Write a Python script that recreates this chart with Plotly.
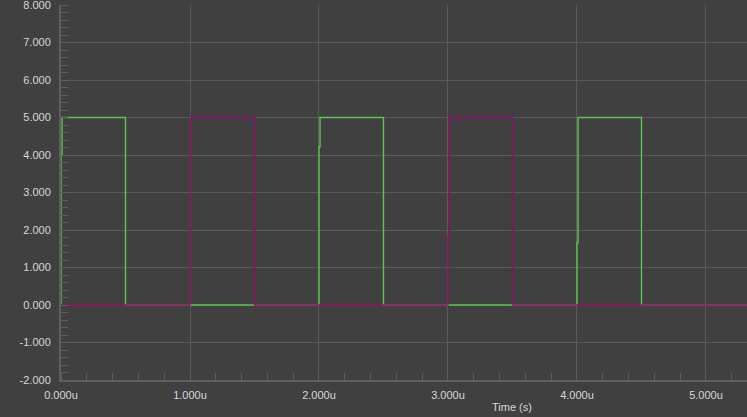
import plotly.graph_objects as go

# Time in microseconds, values in volts (step signals, drawn with 'hv' shape)
green_t = [0.0, 0.0, 0.008, 0.5, 2.0, 2.008, 2.5, 4.0, 4.008, 4.5, 7.0]
green_v = [0.0, 4.0, 5.0, 0.0, 4.22, 5.0, 0.0, 1.66, 5.0, 0.0, 0.0]

magenta_t = [0.0, 1.0, 1.008, 1.5, 3.0, 3.008, 3.5, 7.0]
magenta_v = [0.0, 4.16, 5.0, 0.0, 1.86, 5.0, 0.0, 0.0]

x_range = [0.0, 5.318]
y_range = [-2.0, 8.0]
y_ticks = [-2, -1, 0, 1, 2, 3, 4, 5, 6, 7, 8]
y_labels = ["-2.000", "-1.000", "0.000", "1.000", "2.000", "3.000", "4.000",
            "5.000", "6.000", "7.000", "8.000"]
x_ticks = [0, 1, 2, 3, 4, 5]
x_labels = ["0.000u", "1.000u", "2.000u", "3.000u", "4.000u", "5.000u"]

BG = "#404040"
GRID = "#5a5a5a"
AXIS = "#5e5e5e"
TXT = "#d4d8de"

L, T, B = 61, 5, 37
W, H = 747, 417
PW, PH = W - L, H - T - B

fig = go.Figure()
fig.add_trace(go.Scatter(x=green_t, y=green_v, mode="lines", line_shape="hv",
                         line=dict(color="#5ec452", width=1.4), showlegend=False))
fig.add_trace(go.Scatter(x=magenta_t, y=magenta_v, mode="lines", line_shape="hv",
                         line=dict(color="#9a0a6a", width=1.3), showlegend=False))

fig.update_layout(
    width=W, height=H,
    margin=dict(l=L, r=0, t=T, b=B),
    paper_bgcolor=BG, plot_bgcolor=BG,
    font=dict(family="Liberation Sans, Arial, sans-serif", size=11, color=TXT),
    showlegend=False,
    annotations=[dict(text="Time (s)", x=(512 - L) / PW, y=-(407.5 - (T + PH)) / PH,
                      xref="paper", yref="paper", xanchor="center", yanchor="middle",
                      showarrow=False, font=dict(size=11, color=TXT))],
)

fig.update_xaxes(
    range=x_range, tickmode="array", tickvals=x_ticks, ticktext=x_labels,
    showgrid=True, gridcolor=GRID, gridwidth=1, zeroline=False,
    showline=True, linecolor=AXIS, linewidth=2, automargin=False,
    ticks="", ticklabelstandoff=4, ticklabeloverflow="allow",
    minor=dict(dtick=0.2, tick0=0, ticks="inside", ticklen=7, tickcolor=AXIS, tickwidth=1, showgrid=False),
)
fig.update_yaxes(
    range=y_range, tickmode="array", tickvals=y_ticks, ticktext=y_labels,
    showgrid=True, gridcolor=GRID, gridwidth=1, zeroline=False,
    showline=True, linecolor=AXIS, linewidth=2, automargin=False,
    ticks="", ticklabelstandoff=6, ticklabeloverflow="allow",
    minor=dict(dtick=0.2, tick0=0, ticks="inside", ticklen=7, tickcolor=AXIS, tickwidth=1, showgrid=False),
)

fig.write_html(
    "out.html",
    config={"displayModeBar": False},
    post_script="document.body.style.margin='0';document.body.style.background='#404040';",
)
